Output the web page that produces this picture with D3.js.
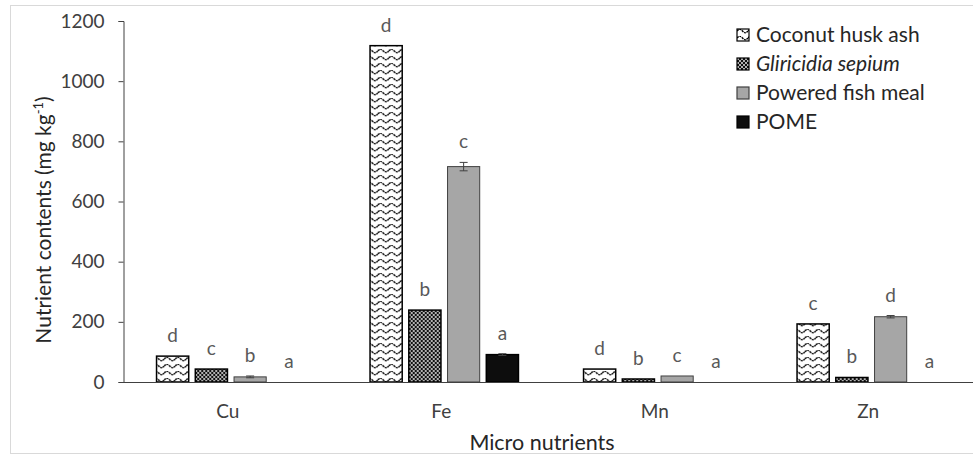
<!DOCTYPE html>
<html><head><meta charset="utf-8">
<script src="https://cdn.jsdelivr.net/npm/d3@7/dist/d3.min.js"></script>
<style>body{margin:0;background:#fff}svg{display:block}</style>
</head><body>
<svg id="chart" width="973" height="459"></svg>
<script>
const categories = ["Cu", "Fe", "Mn", "Zn"];
const series = ["Coconut husk ash", "Gliricidia sepium", "Powered fish meal", "POME"];
const values = {
  "Coconut husk ash": [86, 1118, 43, 193],
  "Gliricidia sepium": [43, 239, 10, 15],
  "Powered fish meal": [17, 716, 20, 217],
  "POME": [0, 91, 0, 0]
};
const errors = {
  "Coconut husk ash": [0, 0, 0, 0],
  "Gliricidia sepium": [0, 0, 0, 0],
  "Powered fish meal": [3, 14, 0, 4],
  "POME": [0, 3, 0, 0]
};
const letters = {
  "Coconut husk ash": ["d", "d", "d", "c"],
  "Gliricidia sepium": ["c", "b", "b", "b"],
  "Powered fish meal": ["b", "c", "c", "d"],
  "POME": ["a", "a", "a", "a"]
};
const yTicks = [0, 200, 400, 600, 800, 1000, 1200];

const svg = d3.select("#chart");
const font = "Lato, 'Open Sans', sans-serif";
const defs = svg.append("defs");
const wave = defs.append("pattern").attr("id", "wave").attr("patternUnits", "userSpaceOnUse")
  .attr("width", 11).attr("height", 7);
wave.append("rect").attr("width", 11).attr("height", 7).attr("fill", "#fff");
wave.append("path").attr("d", "M0,2 Q2.75,-1.5 5.5,2 T11,2").attr("fill", "none").attr("stroke", "#000")
  .attr("stroke-width", 1.4).attr("stroke-dasharray", "2,0.8");
const lat = defs.append("pattern").attr("id", "lattice").attr("patternUnits", "userSpaceOnUse")
  .attr("width", 4).attr("height", 4);
lat.append("rect").attr("width", 4).attr("height", 4).attr("fill", "#111");
lat.append("circle").attr("cx", 1).attr("cy", 1).attr("r", 0.9).attr("fill", "#fff");
lat.append("circle").attr("cx", 3).attr("cy", 3).attr("r", 0.9).attr("fill", "#fff");

const fills = {
  "Coconut husk ash": "url(#wave)",
  "Gliricidia sepium": "url(#lattice)",
  "Powered fish meal": "#a6a6a6",
  "POME": "#0d0d0d"
};
const strokes = {
  "Coconut husk ash": "#000",
  "Gliricidia sepium": "#000",
  "Powered fish meal": "#404040",
  "POME": "#000"
};

svg.append("rect").attr("x", 10.5).attr("y", 5.5).attr("width", 975).attr("height", 448)
  .attr("fill", "none").attr("stroke", "#d9d9d9").attr("stroke-width", 1);

const x0 = d3.scaleBand().domain(categories).range([121, 975]);
const groupW = 155;
const x1 = d3.scaleBand().domain(series).range([0, groupW]).paddingInner(0.17).paddingOuter(0.085);
const y = d3.scaleLinear().domain([0, 1200]).range([382, 21]);

const yAxis = svg.append("g").attr("transform", "translate(123.5,0)")
  .call(d3.axisLeft(y).tickValues(yTicks).tickFormat(d3.format("d")).tickSize(5).tickPadding(14));
yAxis.select(".domain").attr("stroke", "#404040");
yAxis.selectAll(".tick line").attr("stroke", "#404040");
yAxis.selectAll("text").attr("font-family", font).attr("font-size", 19).attr("fill", "#404040");

const groups = svg.append("g").selectAll("g").data(categories).join("g")
  .attr("transform", d => `translate(${x0(d) + x0.bandwidth() / 2 - groupW / 2 + 3},0)`);

series.forEach(s => {
  groups.filter((d, i) => values[s][i] > 0).append("rect")
    .attr("x", () => x1(s))
    .attr("width", x1.bandwidth())
    .attr("y", d => y(values[s][categories.indexOf(d)]))
    .attr("height", d => y(0) - y(values[s][categories.indexOf(d)]))
    .attr("fill", fills[s])
    .attr("stroke", strokes[s])
    .attr("stroke-width", s === "Powered fish meal" ? 1 : 1.5);
  groups.each(function(d, i) {
    const e = errors[s][i];
    const g = d3.select(this);
    const cx = x1(s) + x1.bandwidth() / 2;
    if (e > 0) {
      const yt = y(values[s][i] + e), yb = y(values[s][i] - e);
      g.append("line").attr("x1", cx).attr("x2", cx).attr("y1", yt).attr("y2", yb).attr("stroke", "#404040");
      g.append("line").attr("x1", cx - 4).attr("x2", cx + 4).attr("y1", yt).attr("y2", yt).attr("stroke", "#404040");
      g.append("line").attr("x1", cx - 4).attr("x2", cx + 4).attr("y1", yb).attr("y2", yb).attr("stroke", "#404040");
    }
    g.append("text").attr("x", cx).attr("y", y(values[s][i] + e) - 14)
      .attr("text-anchor", "middle").attr("font-family", font).attr("font-size", 19)
      .attr("fill", "#595959").text(letters[s][i]);
  });
});

svg.append("line").attr("x1", 123).attr("x2", 975).attr("y1", 382.5).attr("y2", 382.5).attr("stroke", "#404040").attr("stroke-width", 1);
const xAxis = svg.append("g").attr("transform", "translate(0,382.5)")
  .call(d3.axisBottom(x0).tickSize(0).tickPadding(22));
xAxis.select(".domain").remove();
xAxis.selectAll("text").attr("font-family", font).attr("font-size", 19).attr("fill", "#404040");

svg.append("text").attr("x", 542).attr("y", 450).attr("text-anchor", "middle")
  .attr("font-family", font).attr("font-size", 21.5).attr("fill", "#262626").text("Micro nutrients");
const yt = svg.append("text").attr("transform", "translate(51,220) rotate(-90)").attr("text-anchor", "middle")
  .attr("font-family", font).attr("font-size", 21).attr("fill", "#262626");
yt.append("tspan").text("Nutrient contents (mg kg");
yt.append("tspan").attr("dy", -8).attr("font-size", 13).text("-1");
yt.append("tspan").attr("dy", 8).text(")");

const leg = svg.append("g").attr("transform", "translate(737,29)");
series.forEach((s, i) => {
  const g = leg.append("g").attr("transform", `translate(0,${i * 29})`);
  g.append("rect").attr("width", 12).attr("height", 12).attr("fill", fills[s]).attr("stroke", strokes[s]).attr("stroke-width", 1.2);
  g.append("text").attr("x", 19).attr("y", 13).attr("font-family", font).attr("font-size", 21)
    .attr("fill", "#262626").attr("font-style", s === "Gliricidia sepium" ? "italic" : "normal").text(s);
});
</script>
</body></html>
